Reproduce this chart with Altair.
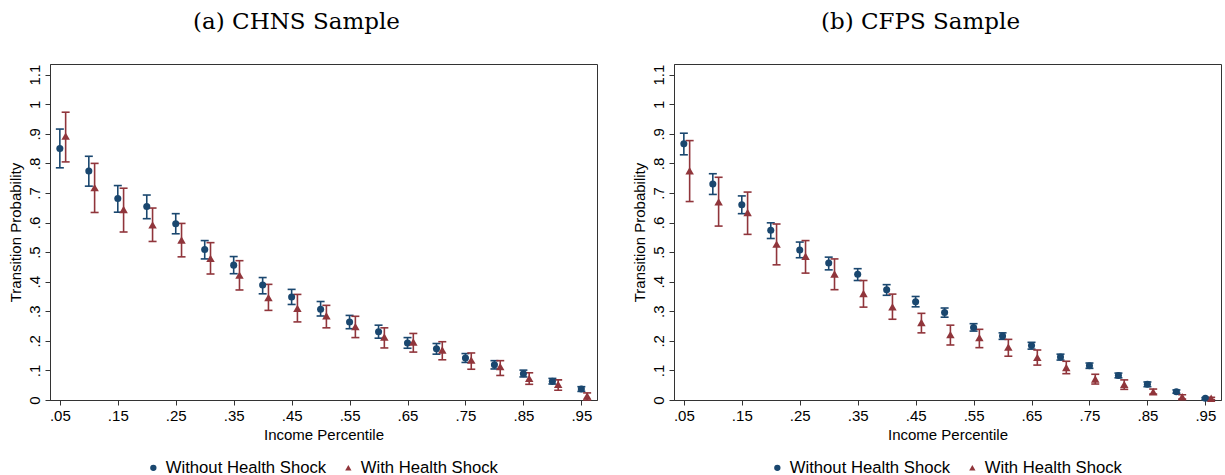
import altair as alt
import pandas as pd

percentiles = [0.05, 0.10, 0.15, 0.20, 0.25, 0.30, 0.35, 0.40, 0.45, 0.50,
               0.55, 0.60, 0.65, 0.70, 0.75, 0.80, 0.85, 0.90, 0.95]

# (a) CHNS sample
chns_without = [0.850, 0.774, 0.681, 0.654, 0.596, 0.509, 0.456, 0.389, 0.348, 0.307,
                0.264, 0.231, 0.193, 0.173, 0.142, 0.119, 0.089, 0.063, 0.037]
chns_without_lo = [0.785, 0.723, 0.635, 0.613, 0.562, 0.477, 0.427, 0.359, 0.323, 0.284,
                   0.241, 0.209, 0.175, 0.155, 0.127, 0.105, 0.078, 0.054, 0.029]
chns_without_hi = [0.916, 0.824, 0.725, 0.693, 0.630, 0.539, 0.485, 0.414, 0.374, 0.333,
                   0.286, 0.253, 0.211, 0.191, 0.157, 0.133, 0.101, 0.073, 0.045]
chns_with = [0.892, 0.718, 0.644, 0.592, 0.541, 0.479, 0.422, 0.346, 0.310, 0.285,
             0.248, 0.213, 0.196, 0.169, 0.135, 0.113, 0.073, 0.053, 0.014]
chns_with_lo = [0.805, 0.634, 0.568, 0.536, 0.484, 0.426, 0.372, 0.303, 0.264, 0.244,
                0.211, 0.176, 0.162, 0.136, 0.104, 0.083, 0.053, 0.033, 0.000]
chns_with_hi = [0.973, 0.800, 0.716, 0.649, 0.597, 0.532, 0.471, 0.391, 0.357, 0.320,
                0.283, 0.244, 0.225, 0.197, 0.159, 0.133, 0.092, 0.068, 0.024]

# (b) CFPS sample
cfps_without = [0.866, 0.730, 0.660, 0.574, 0.507, 0.463, 0.425, 0.373, 0.332, 0.296,
                0.245, 0.216, 0.184, 0.145, 0.116, 0.083, 0.053, 0.028, 0.006]
cfps_without_lo = [0.829, 0.695, 0.630, 0.546, 0.481, 0.440, 0.404, 0.354, 0.315, 0.280,
                   0.233, 0.205, 0.172, 0.135, 0.107, 0.075, 0.045, 0.023, 0.001]
cfps_without_hi = [0.902, 0.765, 0.690, 0.599, 0.534, 0.483, 0.444, 0.390, 0.350, 0.311,
                   0.258, 0.227, 0.195, 0.155, 0.125, 0.091, 0.061, 0.034, 0.008]
cfps_with = [0.775, 0.670, 0.634, 0.527, 0.486, 0.426, 0.360, 0.315, 0.262, 0.221,
             0.211, 0.179, 0.144, 0.110, 0.071, 0.053, 0.028, 0.011, 0.006]
cfps_with_lo = [0.671, 0.588, 0.560, 0.457, 0.429, 0.373, 0.314, 0.273, 0.227, 0.186,
                0.177, 0.148, 0.118, 0.089, 0.054, 0.036, 0.020, 0.003, 0.001]
cfps_with_hi = [0.877, 0.753, 0.703, 0.595, 0.539, 0.477, 0.404, 0.358, 0.293, 0.253,
                0.239, 0.205, 0.169, 0.131, 0.087, 0.068, 0.037, 0.018, 0.009]

series_names = ["Without Health Shock", "With Health Shock"]
series_colors = ["#1a476f", "#90353b"]
series_shapes = ["circle", "triangle-up"]
series_sizes = [50, 72]

y_ticks = [0, 0.1, 0.2, 0.3, 0.4, 0.5, 0.6, 0.7, 0.8, 0.9, 1.0, 1.1]
x_ticks = [0.05, 0.15, 0.25, 0.35, 0.45, 0.55, 0.65, 0.75, 0.85, 0.95]


def make_df(wo, wo_lo, wo_hi, wi, wi_lo, wi_hi):
    rows = []
    for i, p in enumerate(percentiles):
        rows.append({"p": p, "series": series_names[0], "est": wo[i], "lo": wo_lo[i], "hi": wo_hi[i]})
        rows.append({"p": p, "series": series_names[1], "est": wi[i], "lo": wi_lo[i], "hi": wi_hi[i]})
    return pd.DataFrame(rows)


W, H = 547, 336

color_scale = alt.Scale(domain=series_names, range=series_colors)
shape_scale = alt.Scale(domain=series_names, range=series_shapes)
size_scale = alt.Scale(domain=series_names, range=series_sizes)


def panel(df, title):
    base = alt.Chart(df).transform_calculate(
        xpos="datum.p + (datum.series == 'With Health Shock' ? 0.01 : 0)"
    )
    x_enc = alt.X(
        "xpos:Q",
        scale=alt.Scale(domain=[0.033, 0.977], nice=False, zero=False),
        axis=alt.Axis(
            values=x_ticks,
            title="Income Percentile",
            labelExpr="substring(format(datum.value, '.2f'), 1)",
            labelOverlap=False,
        ),
    )
    y_scale = alt.Scale(domain=[0, 1.136], nice=False, zero=False)
    y_axis = alt.Axis(
        values=y_ticks,
        title="Transition Probability",
        labelAngle=-90,
        labelAlign="center",
        labelBaseline="bottom",
        labelOverlap=False,
        labelExpr="(datum.value > 0 && datum.value < 1) ? substring(format(datum.value, '.1f'), 1) : format(datum.value, '~g')",
    )

    def y_enc(field):
        return alt.Y(field, type="quantitative", scale=y_scale, axis=y_axis)

    rules = base.mark_rule(strokeWidth=1.6, opacity=1).encode(
        x=x_enc,
        y=y_enc("lo"),
        y2="hi:Q",
        stroke=alt.Stroke("series:N", scale=color_scale, legend=None),
    )
    cap_lo = base.mark_tick(orient="horizontal", size=8, thickness=1.6, opacity=1).encode(
        x=x_enc, y=y_enc("lo"), fill=alt.Fill("series:N", scale=color_scale, legend=None)
    )
    cap_hi = base.mark_tick(orient="horizontal", size=8, thickness=1.6, opacity=1).encode(
        x=x_enc, y=y_enc("hi"), fill=alt.Fill("series:N", scale=color_scale, legend=None)
    )
    pts = base.mark_point(filled=True, opacity=1).encode(
        x=x_enc,
        y=y_enc("est"),
        color=alt.Color(
            "series:N",
            scale=color_scale,
            legend=alt.Legend(
                title=None,
                orient="none",
                direction="horizontal",
                legendX=95,
                legendY=395,
                labelFontSize=16.7,
                labelFont="Liberation Sans",
                labelColor="#000",
                labelLimit=400,
                symbolSize=40,
                columnPadding=13,
                symbolOpacity=1,
            ),
        ),
        shape=alt.Shape("series:N", scale=shape_scale),
        size=alt.Size("series:N", scale=size_scale, legend=None),
    )
    return alt.layer(rules, cap_lo, cap_hi, pts).properties(
        width=W,
        height=H,
        title=alt.TitleParams(
            title,
            font="DejaVu Serif",
            fontSize=23,
            fontWeight="normal",
            color="#000",
            anchor="middle",
            dx=-27,
            offset=30,
        ),
    )


left = panel(make_df(chns_without, chns_without_lo, chns_without_hi,
                     chns_with, chns_with_lo, chns_with_hi), "(a) CHNS Sample")
right = panel(make_df(cfps_without, cfps_without_lo, cfps_without_hi,
                      cfps_with, cfps_with_lo, cfps_with_hi), "(b) CFPS Sample")

chart = alt.hconcat(left, right, spacing=33).resolve_legend(
    color="independent", shape="independent"
).properties(
    padding={"left": 7, "top": 10, "right": 0, "bottom": 0},
    background="white",
).configure_view(
    stroke="#333", strokeWidth=1
).configure_axis(
    grid=False,
    domainColor="#333",
    tickColor="#333",
    tickSize=5,
    labelFont="Liberation Sans",
    labelFontSize=15,
    labelColor="#000",
    titleFont="Liberation Sans",
    titleFontSize=15,
    titleFontWeight="normal",
    titleColor="#000",
    labelPadding=3,
    titlePadding=4,
)

chart.save("out.html", embed_options={"renderer": "svg", "actions": False})
